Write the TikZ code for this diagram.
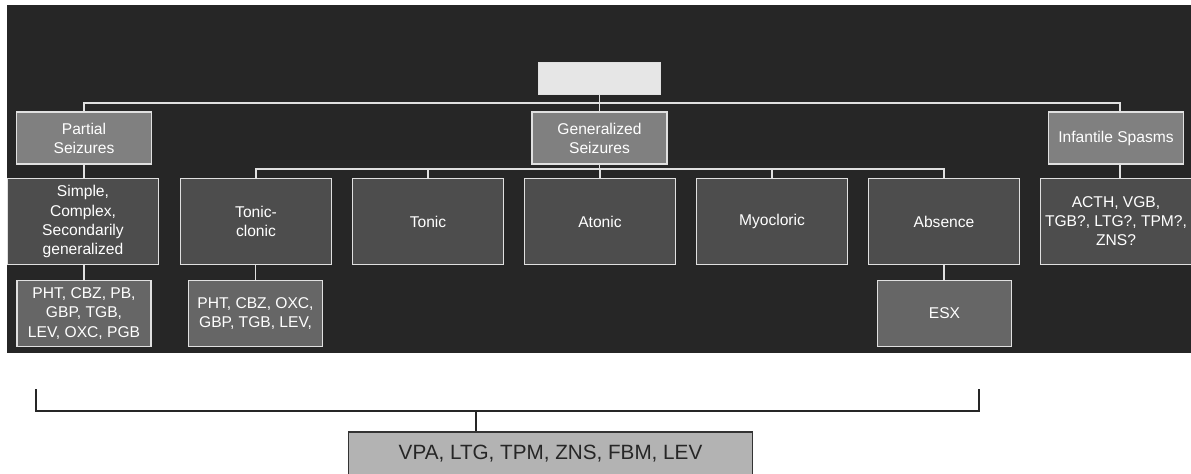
\documentclass[tikz,border=0pt]{standalone}
\usepackage{fontspec}
\setmainfont{Liberation Sans}
\definecolor{bgdark}{HTML}{262626}
\definecolor{lvone}{HTML}{808080}
\definecolor{lvtwo}{HTML}{4D4D4D}
\definecolor{lvthree}{HTML}{666666}
\definecolor{topfill}{HTML}{E6E6E6}
\definecolor{edge}{HTML}{E0E0E0}
\definecolor{botfill}{HTML}{B3B3B3}
\begin{document}
\begin{tikzpicture}[x=0.75pt,y=-0.75pt,
  box/.style={draw=edge,line width=1.1pt,text=white,align=center,inner sep=0pt,
    font=\fontsize{11.7}{14.3}\selectfont},
  one/.style={box,fill=lvone,minimum width=135,minimum height=52*0.75pt},
  two/.style={box,fill=lvtwo,minimum width=151*0.75pt,minimum height=86*0.75pt},
  three/.style={box,fill=lvthree,minimum width=134*0.75pt,minimum height=66*0.75pt},
  conn/.style={draw=edge,line width=1.1pt},
  bconn/.style={draw=black!85,line width=1.4pt}]
\useasboundingbox (0,0) rectangle (1191,474);
\fill[white] (0,0) rectangle (1191,474);
\fill[bgdark] (7,5) rectangle (1191,353);
% nodes
\node[box,fill=topfill,minimum width=122*0.75pt,minimum height=32*0.75pt] (top) at (599.5,78.5) {};
\node[one,minimum width=135*0.75pt] (partial) at (84,138) {Partial\\Seizures};
\node[one,minimum width=135*0.75pt] (gen) at (599.5,138) {Generalized\\Seizures};
\node[one,minimum width=135*0.75pt] (inf) at (1116,138) {Infantile Spasms};
\node[two] (simple) at (83,221.5) {Simple,\\Complex,\\Secondarily\\generalized};
\node[two] (tc) at (256,221.5) {Tonic-\\clonic};
\node[two] (tonic) at (428,221.5) {Tonic};
\node[two] (atonic) at (600,221.5) {Atonic};
\node[two] (myo) at (772,221.5) {Myocloric};
\node[two] (absence) at (944,221.5) {Absence};
\node[two] (acth) at (1116,221.5) {ACTH, VGB,\\TGB?, LTG?, TPM?,\\ZNS?};
\node[three] (drugp) at (84,313.5) {PHT, CBZ, PB,\\GBP, TGB,\\LEV, OXC, PGB};
\node[three] (drugtc) at (255.5,313.5) {PHT, CBZ, OXC,\\GBP, TGB, LEV,};
\node[three] (esx) at (944.5,313.5) {ESX};
\node[draw=black!80,line width=1.4pt,fill=botfill,minimum width=404*0.75pt,minimum height=44*0.75pt,
  inner sep=0pt,font=\fontsize{15.5}{18}\selectfont,text=black!85] (broad) at (550.5,454) {VPA, LTG, TPM, ZNS, FBM, LEV};
% connectors top level
\coordinate (hl) at (84,103);
\coordinate (hr) at (1120,103);
\draw[conn] (top.south) -- (top.south |- hl);
\draw[conn] (partial.north) -- (partial.north |- hl) -- (hr) -- (hr |- inf.north);
\draw[conn] (gen.north) -- (gen.north |- hl);
% generalized children
\coordinate (gl) at (256,169);
\draw[conn] (gen.south) -- (gen.south |- gl);
\draw[conn] (tc.north) -- (tc.north |- gl) -- (absence.north |- gl) -- (absence.north);
\draw[conn] (tonic.north) -- (tonic.north |- gl);
\draw[conn] (atonic.north) -- (atonic.north |- gl);
\draw[conn] (myo.north) -- (myo.north |- gl);
% vertical links
\draw[conn] (partial.south) -- (simple.north -| partial.south);
\draw[conn] (simple.south -| drugp.north) -- (drugp.north);
\draw[conn] (tc.south -| drugtc.north) -- (drugtc.north);
\draw[conn] (absence.south) -- (esx.north -| absence.south);
\draw[conn] (hr |- inf.south) -- (hr |- acth.north);
% bottom bracket
\coordinate (bl) at (36,389);
\coordinate (br) at (979,389);
\coordinate (bb) at (36,411);
\coordinate (stem) at (476,411);
\draw[bconn] (bl) -- (bb) -- (br |- bb) -- (br);
\draw[bconn] (stem) -- (stem |- broad.north);
\end{tikzpicture}
\end{document}
